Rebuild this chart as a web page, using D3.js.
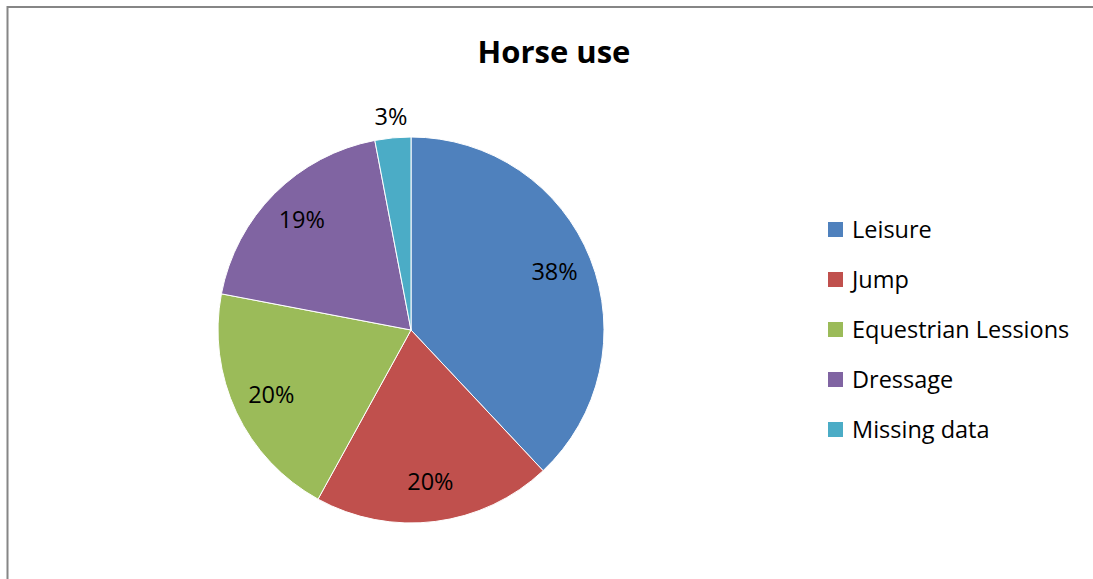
<!DOCTYPE html>
<html>
<head>
<meta charset="utf-8">
<script src="https://cdn.jsdelivr.net/npm/d3@7"></script>
<style>
  html, body { margin: 0; padding: 0; background: #fff; }
  svg { display: block; font-family: "Open Sans", "Noto Sans", sans-serif; }
</style>
</head>
<body>
<svg id="chart" width="1093" height="579"></svg>
<script>
const title = "Horse use";
const categories = ["Leisure", "Jump", "Equestrian Lessions", "Dressage", "Missing data"];
const values = [38, 20, 20, 19, 3];
const colors = ["#4F81BD", "#C0504D", "#9BBB59", "#8064A2", "#4BACC6"];

const svg = d3.select("#chart");
const W = 1093, H = 579;

// chart area border
svg.append("rect")
  .attr("x", 7.5).attr("y", 7)
  .attr("width", W + 10).attr("height", H + 10)
  .attr("fill", "#fff")
  .attr("stroke", "#868686").attr("stroke-width", 2);

svg.append("text")
  .attr("x", 554).attr("y", 63)
  .attr("text-anchor", "middle")
  .attr("font-size", 31).attr("font-weight", "bold")
  .attr("fill", "#000")
  .text(title);

const cx = 411, cy = 330, r = 193;
const data = categories.map((c, i) => ({ name: c, value: values[i], color: colors[i] }));
const pie = d3.pie().value(d => d.value).sort(null);
const arcs = pie(data);
const arc = d3.arc().innerRadius(0).outerRadius(r);
const labelArc = d3.arc().innerRadius(r * 0.8).outerRadius(r * 0.8);
const outerArc = d3.arc().innerRadius(r + 20).outerRadius(r + 20);
const total = d3.sum(values);

const g = svg.append("g").attr("transform", `translate(${cx},${cy})`);
g.selectAll("path").data(arcs).join("path")
  .attr("d", arc)
  .attr("fill", d => d.data.color)
  .attr("stroke", "#fff").attr("stroke-width", 1);

g.selectAll("text.lbl").data(arcs).join("text")
  .attr("class", "lbl")
  .attr("transform", d => {
    const small = d.data.value / total < 0.05;
    const p = (small ? outerArc : labelArc).centroid(d);
    return `translate(${p[0]},${p[1] - 2})`;
  })
  .attr("text-anchor", "middle")
  .attr("dominant-baseline", "central")
  .attr("font-size", 23.5)
  .attr("fill", "#000")
  .text(d => Math.round(d.data.value / total * 100) + "%");

const leg = svg.append("g").attr("transform", "translate(828,222)");
const items = leg.selectAll("g").data(data).join("g")
  .attr("transform", (d, i) => `translate(0,${i * 50})`);
items.append("rect").attr("width", 15).attr("height", 15).attr("fill", d => d.color);
items.append("text")
  .attr("x", 24).attr("y", 7)
  .attr("dominant-baseline", "central")
  .attr("font-size", 23.5)
  .attr("fill", "#000")
  .text(d => d.name);
</script>
</body>
</html>
